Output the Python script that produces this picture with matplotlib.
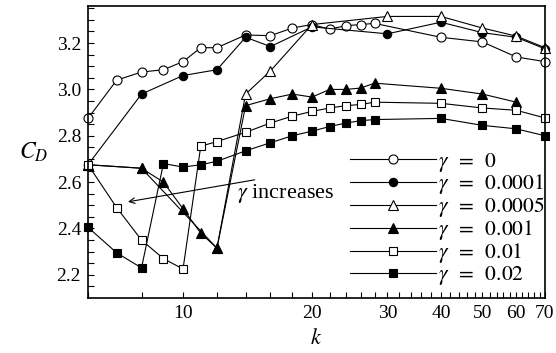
import numpy as np
import matplotlib
matplotlib.use("Agg")
from matplotlib import pyplot as plt
from matplotlib.ticker import FixedLocator, NullFormatter

plt.rcParams['font.family'] = ['Liberation Serif', 'DejaVu Serif']
plt.rcParams['mathtext.fontset'] = 'stix'

# drag coefficient vs k for each gamma
k_g0 = [6, 7, 8, 9, 10, 11, 12, 14, 16, 18, 20, 22, 24, 26, 28, 40, 50, 60, 70]
cd_g0 = [2.875, 3.04, 3.075, 3.085, 3.12, 3.18, 3.18, 3.235, 3.232, 3.265, 3.28,
         3.26, 3.275, 3.28, 3.285, 3.225, 3.205, 3.14, 3.12]

k_g1 = [6, 8, 10, 12, 14, 16, 20, 30, 40, 50, 60, 70]
cd_g1 = [2.675, 2.98, 3.06, 3.085, 3.225, 3.185, 3.27, 3.24, 3.29, 3.245, 3.225, 3.175]

k_g2 = [6, 8, 12, 14, 16, 20, 30, 40, 50, 60, 70]
cd_g2 = [2.675, 2.66, 2.315, 2.98, 3.08, 3.28, 3.315, 3.315, 3.265, 3.23, 3.18]

k_g3 = [6, 8, 9, 10, 11, 12, 14, 16, 18, 20, 22, 24, 26, 28, 40, 50, 60]
cd_g3 = [2.675, 2.66, 2.60, 2.485, 2.38, 2.315, 2.93, 2.96, 2.98, 2.967, 3.0,
         3.0, 3.006, 3.027, 3.005, 2.98, 2.945]

k_g4 = [6, 7, 8, 9, 10, 11, 12, 14, 16, 18, 20, 22, 24, 26, 28, 40, 50, 60, 70]
cd_g4 = [2.675, 2.49, 2.35, 2.27, 2.225, 2.755, 2.775, 2.815, 2.855, 2.885, 2.905,
         2.92, 2.93, 2.935, 2.945, 2.94, 2.92, 2.91, 2.877]

k_g5 = [6, 7, 8, 9, 10, 11, 12, 14, 16, 18, 20, 22, 24, 26, 28, 40, 50, 60, 70]
cd_g5 = [2.405, 2.295, 2.23, 2.68, 2.665, 2.675, 2.69, 2.735, 2.77, 2.80, 2.82,
         2.84, 2.855, 2.865, 2.87, 2.875, 2.845, 2.83, 2.80]

labels = [r'$\gamma\;\;=\;\;0$', r'$\gamma\;\;=\;\;0.0001$', r'$\gamma\;\;=\;\;0.0005$',
          r'$\gamma\;\;=\;\;0.001$', r'$\gamma\;\;=\;\;0.01$', r'$\gamma\;\;=\;\;0.02$']

x_major = [10, 20, 30, 40, 50, 60, 70]
x_minor = list(range(6, 71, 2))
y_major = [2.2, 2.4, 2.6, 2.8, 3.0, 3.2]

series = [
	(k_g0, cd_g0, 'o', 'white', 6.5),
	(k_g1, cd_g1, 'o', 'black', 6.0),
	(k_g2, cd_g2, '^', 'white', 7.0),
	(k_g3, cd_g3, '^', 'black', 6.5),
	(k_g4, cd_g4, 's', 'white', 5.5),
	(k_g5, cd_g5, 's', 'black', 5.5),
]

fig = plt.figure(figsize=(5.56, 3.53), dpi=100)
ax = fig.add_axes([88 / 556, 1 - 298 / 353, 457 / 556, 292 / 353])

for (ks, cds, m, fc, ms), lab in zip(series, labels):
	ax.plot(ks, cds, color='black', lw=0.8, marker=m, ms=ms, mfc=fc,
			mec='black', mew=0.8, label=lab, clip_on=False)

ax.set_xscale('log')
ax.set_xlim(6, 70)
ax.set_ylim(2.1, 3.36)

ax.xaxis.set_major_locator(FixedLocator(x_major))
ax.xaxis.set_major_formatter(plt.FixedFormatter([str(v) for v in x_major]))
ax.xaxis.set_minor_locator(FixedLocator([v for v in x_minor if v not in x_major]))
ax.xaxis.set_minor_formatter(NullFormatter())

ax.yaxis.set_major_locator(FixedLocator(y_major))
ax.yaxis.set_major_formatter(plt.FixedFormatter(['%.1f' % v for v in y_major]))
ax.yaxis.set_minor_locator(FixedLocator(np.arange(2.15, 3.36, 0.05)))

ax.tick_params(which='both', direction='in', length=4, width=0.8,
			   top=False, right=False, labelsize=14)
ax.tick_params(axis='x', which='major', pad=5)
ax.tick_params(axis='y', which='major', pad=5)
for sp in ax.spines.values():
	sp.set_linewidth(1.2)

ax.set_xlabel(r'$k$', fontsize=16, va='center')
ax.xaxis.set_label_coords(0.5, -0.14)
ax.set_ylabel(r'$C_D$', fontsize=17, rotation=0, va='center', ha='center')
ax.yaxis.set_label_coords(-0.12, 0.5)

ax.annotate('', xy=(7.44, 2.515), xytext=(14.7, 2.61),
			arrowprops=dict(arrowstyle='->', color='black', lw=0.8,
							shrinkA=0, shrinkB=0))
ax.text(13.4, 2.553, r'$\gamma$ increases', fontsize=16, ha='left', va='center')

ax.legend(loc='upper left', bbox_to_anchor=(0.573, 0.505), frameon=False,
		  fontsize=15.5, handlelength=4.0, handletextpad=0.1, labelspacing=-0.05,
		  borderpad=0, borderaxespad=0)

fig.savefig('out.png', dpi=100)
